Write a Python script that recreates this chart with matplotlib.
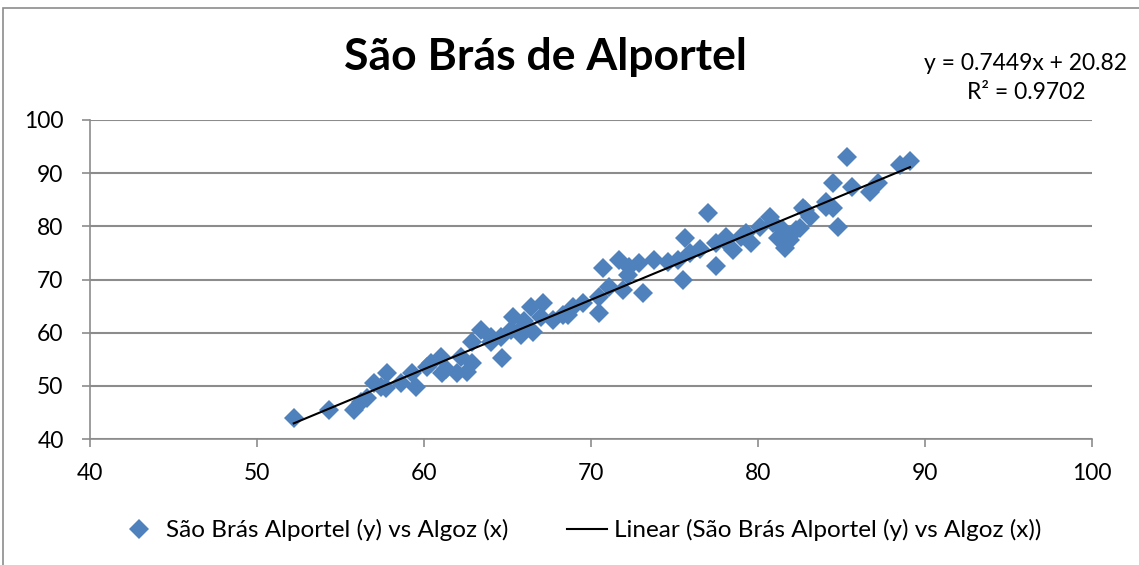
import numpy as np
import matplotlib
matplotlib.use("Agg")
import matplotlib.pyplot as plt
from matplotlib.patches import Rectangle

plt.rcParams["font.family"] = ["Lato", "DejaVu Sans"]

# Algoz (x) vs Sao Bras de Alportel (y)
algoz = [
    52.2, 54.3, 55.8, 56.2, 56.6, 57.0, 57.4, 57.8, 57.7, 58.6,
    59.5, 59.3, 60.4, 61.0, 61.1, 62.0, 62.2, 62.9, 62.6, 64.7,
    62.9, 64.0, 64.0, 64.6, 65.3, 65.2, 65.9, 66.4, 67.1, 67.0,
    67.7, 68.3, 68.9, 69.5, 70.5, 70.5, 71.1, 71.9, 73.1, 66.5,
    65.8, 70.7, 71.7, 72.3, 72.2, 72.9, 73.8, 74.6, 75.2, 75.5,
    75.6, 77.5, 77.5, 77.0, 75.9, 78.1, 78.5, 79.3, 79.6, 80.1,
    80.9, 81.5, 81.6, 81.9, 81.2, 82.3, 82.8, 83.1, 84.1, 80.7,
    85.3, 88.5, 89.1, 84.5, 85.6, 86.7, 87.2, 84.1, 84.5, 82.7,
    84.8, 82.5, 60.2, 61.3, 63.4, 66.0, 68.6, 76.5, 78.0, 79.0,
]
sao_bras = [
    43.9, 45.5, 45.5, 47.0, 47.7, 50.5, 49.8, 52.4, 49.6, 50.5,
    49.8, 52.4, 54.3, 55.4, 52.4, 52.4, 55.4, 54.3, 52.6, 55.3,
    58.2, 58.2, 59.2, 59.2, 63.0, 60.5, 61.1, 64.8, 65.6, 63.0,
    62.4, 63.3, 64.8, 65.6, 63.7, 66.7, 68.6, 68.0, 67.5, 60.1,
    59.6, 72.2, 73.7, 72.4, 70.8, 73.1, 73.7, 73.3, 73.7, 69.9,
    77.8, 76.9, 72.6, 82.6, 75.0, 78.0, 75.6, 78.8, 76.9, 79.9,
    80.6, 79.3, 75.9, 77.4, 77.8, 79.3, 83.1, 81.8, 83.6, 81.8,
    93.0, 91.5, 92.2, 88.2, 87.4, 86.5, 88.2, 84.6, 83.4, 83.4,
    79.9, 79.7, 53.6, 53.2, 60.5, 62.2, 63.4, 75.8, 77.3, 78.0,
]
eq_label = "y = 0.7449x + 20.82\nR² = 0.9702"
title = "São Brás de Alportel"
series_name = "São Brás Alportel (y) vs Algoz (x)"

x = np.array(algoz)
y = np.array(sao_bras)
slope, intercept = np.polyfit(x, y, 1)
xl = np.array([x.min(), x.max()])

fig = plt.figure(figsize=(11.39, 5.65), dpi=100)
ax = fig.add_axes([90 / 1139, 126 / 565, 1002 / 1139, 319 / 565])

ax.plot(x, y, linestyle="none", marker="D", markersize=10,
        color="#4F81BD", markeredgewidth=0, label=series_name, zorder=3)
ax.plot(xl, slope * xl + intercept, color="black", linewidth=1.5,
        label=f"Linear ({series_name})", zorder=4)

ax.set_xlim(40, 100)
ax.set_ylim(40, 100)
ax.set_xticks(range(40, 101, 10))
ax.set_yticks(range(40, 101, 10))
ax.grid(True, axis="y", color="#8C8C8C", linewidth=1.5)
ax.set_axisbelow(True)
for s in ["top", "right"]:
    ax.spines[s].set_visible(False)
for s in ["left", "bottom"]:
    ax.spines[s].set_color("#8C8C8C")
    ax.spines[s].set_linewidth(1.2)
ax.tick_params(axis="both", colors="#8C8C8C", labelcolor="black",
               labelsize=16.5, length=6, width=1.2)
ax.tick_params(axis="x", pad=11)
ax.tick_params(axis="y", pad=13)

fig.text(545 / 1139, 1 - 57 / 565, title, fontsize=32, fontweight="bold",
         ha="center", va="center")
fig.text(1026 / 1139, 1 - 78 / 565, eq_label, fontsize=16.5,
         ha="center", va="center", linespacing=1.5)

fig.legend(loc="center", bbox_to_anchor=(580 / 1139, 35 / 565), ncol=2,
           frameon=False, fontsize=17.5, handlelength=1.65, handletextpad=0.3,
           columnspacing=2.4, numpoints=1)

fig.add_artist(Rectangle((3 / 1139, -0.1), 1.2, 0.1 + (565 - 8) / 565,
                         transform=fig.transFigure, fill=False,
                         edgecolor="#8C8C8C", linewidth=1.2))

fig.savefig("out.png", dpi=100)
